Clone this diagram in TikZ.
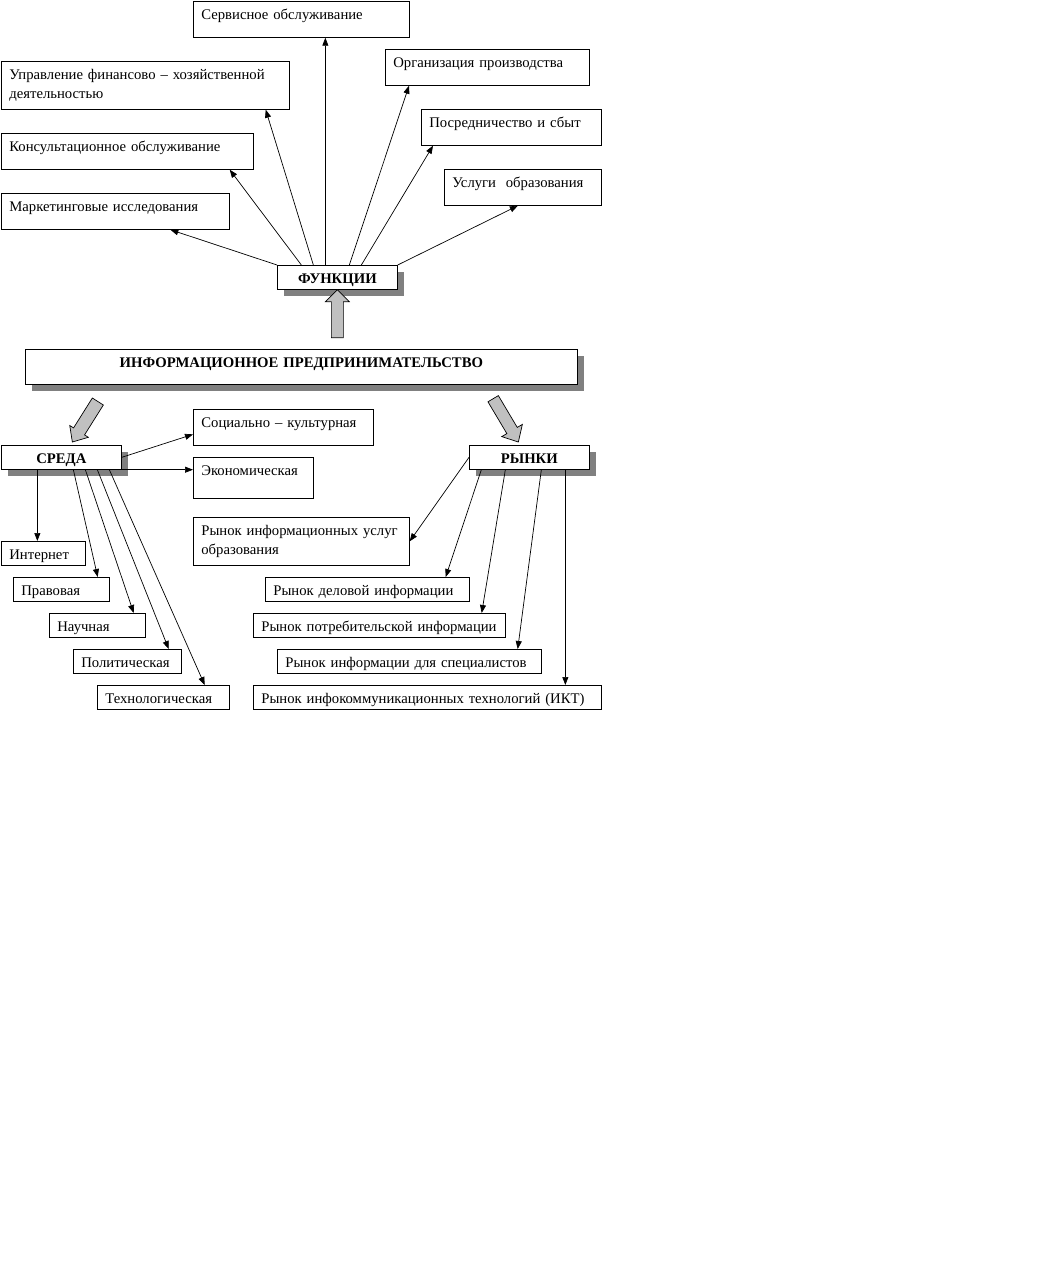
\documentclass[tikz,border=0pt]{standalone}
\usepackage{fontspec}
\setmainfont{Liberation Serif}
\usetikzlibrary{shadows,arrows.meta}
\definecolor{shadowgray}{RGB}{128,128,128}
\definecolor{arrowgray}{RGB}{192,192,192}

\begin{document}
\begin{tikzpicture}[x=1pt,y=-1pt,>={Triangle[length=8pt,width=6pt]},line width=0.7pt]
  \tikzstyle{box}=[draw=black,rectangle,anchor=north west,inner xsep=8pt,inner ysep=6pt,text height=12pt,text depth=12pt,align=left,font=\fontsize{14.7pt}{19pt}\selectfont]
  \tikzstyle{head}=[box,fill=white,align=center,text depth=0pt,font=\fontsize{14.7pt}{19pt}\selectfont\bfseries,general shadow={fill=shadowgray,shadow xshift=7pt,shadow yshift=-7pt}]
  \tikzstyle{bigarrow}=[draw=black,fill=arrowgray,line join=miter]
  \useasboundingbox (0,0) rectangle (1060,1272);

  % functions
  \node[box, text width=200pt] (serv) at (193,1) {Сервисное обслуживание};
  \node[box, text width=188pt] (org) at (385,49) {Организация производства};
  \node[box, text width=272pt, text depth=24pt] (upr) at (1,61) {Управление финансово – хозяйственной\\деятельностью};
  \node[box, text width=164pt] (posr) at (421,109) {Посредничество и сбыт};
  \node[box, text width=236pt] (kons) at (1,133) {Консультационное обслуживание};
  \node[box, text width=141pt] (usl) at (444,169) {Услуги~ образования};
  \node[box, text width=212pt] (mark) at (1,193) {Маркетинговые исследования};
  \node[head, text width=104pt] (funk) at (277,265) {ФУНКЦИИ};

  % centre
  \node[head, text width=536pt, text depth=11pt] (info) at (25,349) {ИНФОРМАЦИОННОЕ ПРЕДПРИНИМАТЕЛЬСТВО};
  \node[head, text width=104pt] (sreda) at (1,445) {СРЕДА};
  \node[head, text width=104pt] (rynki) at (469,445) {РЫНКИ};

  % environment
  \node[box, text width=164pt] (soc) at (193,409) {Социально – культурная};
  \node[box, text width=104pt, text depth=17pt] (econ) at (193,457) {Экономическая};
  \node[box, text width=68pt, text depth=0pt] (inet) at (1,541) {Интернет};
  \node[box, text width=80pt, text depth=0pt] (prav) at (13,577) {Правовая};
  \node[box, text width=80pt, text depth=0pt] (nauch) at (49,613) {Научная};
  \node[box, text width=92pt, text depth=0pt] (polit) at (73,649) {Политическая};
  \node[box, text width=116pt, text depth=0pt] (tech) at (97,685) {Технологическая};

  % markets
  \node[box, text width=200pt, text depth=24pt] (rinf) at (193,517) {Рынок информационных услуг\\образования};
  \node[box, text width=188pt, text depth=0pt] (rdel) at (265,577) {Рынок деловой информации};
  \node[box, text width=236pt, text depth=0pt] (rpotr) at (253,613) {Рынок потребительской информации};
  \node[box, text width=248pt, text depth=0pt] (rspec) at (277,649) {Рынок информации для специалистов};
  \node[box, text width=332pt, text depth=0pt] (rikt) at (253,685) {Рынок инфокоммуникационных технологий (ИКТ)};

  % big arrows
  \draw[bigarrow] (funk.south) -- ++(12,12) -- ++(-6,0) -- ++(0,36) -- ++(-12,0) -- ++(0,-36) -- ++(-6,0) -- cycle;
  \draw[bigarrow] ([xshift=11pt,yshift=3pt]sreda.north) -- ++(16,-4.7) -- ++(-3.8,-2.4) -- ++(18.8,-29.9) -- ++(-11,-7) -- ++(-18.8,29.9) -- ++(-3.8,-2.4) -- cycle;
  \draw[bigarrow] ([xshift=-11pt,yshift=3pt]rynki.north) -- ++(4,-17.6) -- ++(-5.1,3) -- ++(-18.9,-31.8) -- ++(-10.4,6.2) -- ++(18.9,31.8) -- ++(-5.1,3) -- cycle;

  % edges
  \draw[->] (funk.north west) -- ([xshift=55pt]mark.south);
  \draw[->] ([xshift=-36pt]funk.north) -- ([xshift=-24pt]kons.south east);
  \draw[->] ([xshift=-24pt]funk.north) -- ([xshift=-24pt]upr.south east);
  \draw[->] ([xshift=-12pt]funk.north) -- ([xshift=-12pt]funk.north |- serv.south);
  \draw[->] ([xshift=12pt]funk.north) -- ([xshift=24pt]org.south west);
  \draw[->] ([xshift=24pt]funk.north) -- ([xshift=12pt]posr.south west);
  \draw[->] (funk.north east) -- ([xshift=-5pt]usl.south);

  \draw[->] (sreda.east) -- ([yshift=-7pt]soc.west);
  \draw[->] (sreda.south east) -- (sreda.south east -| econ.west);
  \draw[->] ([xshift=-24pt]sreda.south) -- ([xshift=-24pt]sreda.south |- inet.north);
  \draw[->] ([xshift=12pt]sreda.south) -- ([xshift=-12pt]prav.north east);
  \draw[->] ([xshift=24pt]sreda.south) -- ([xshift=-12pt]nauch.north east);
  \draw[->] ([xshift=36pt]sreda.south) -- ([xshift=-13pt]polit.north east);
  \draw[->] ([xshift=48pt]sreda.south) -- ([xshift=-25pt]tech.north east);

  \draw[->] (rynki.west) -- (rinf.east);
  \draw[->] ([xshift=-48pt]rynki.south) -- ([xshift=-24pt]rdel.north east);
  \draw[->] ([xshift=-24pt]rynki.south) -- ([xshift=-24pt]rpotr.north east);
  \draw[->] ([xshift=12pt]rynki.south) -- ([xshift=-24pt]rspec.north east);
  \draw[->] ([xshift=36pt]rynki.south) -- ([xshift=36pt]rynki.south |- rikt.north);

\end{tikzpicture}
\end{document}
